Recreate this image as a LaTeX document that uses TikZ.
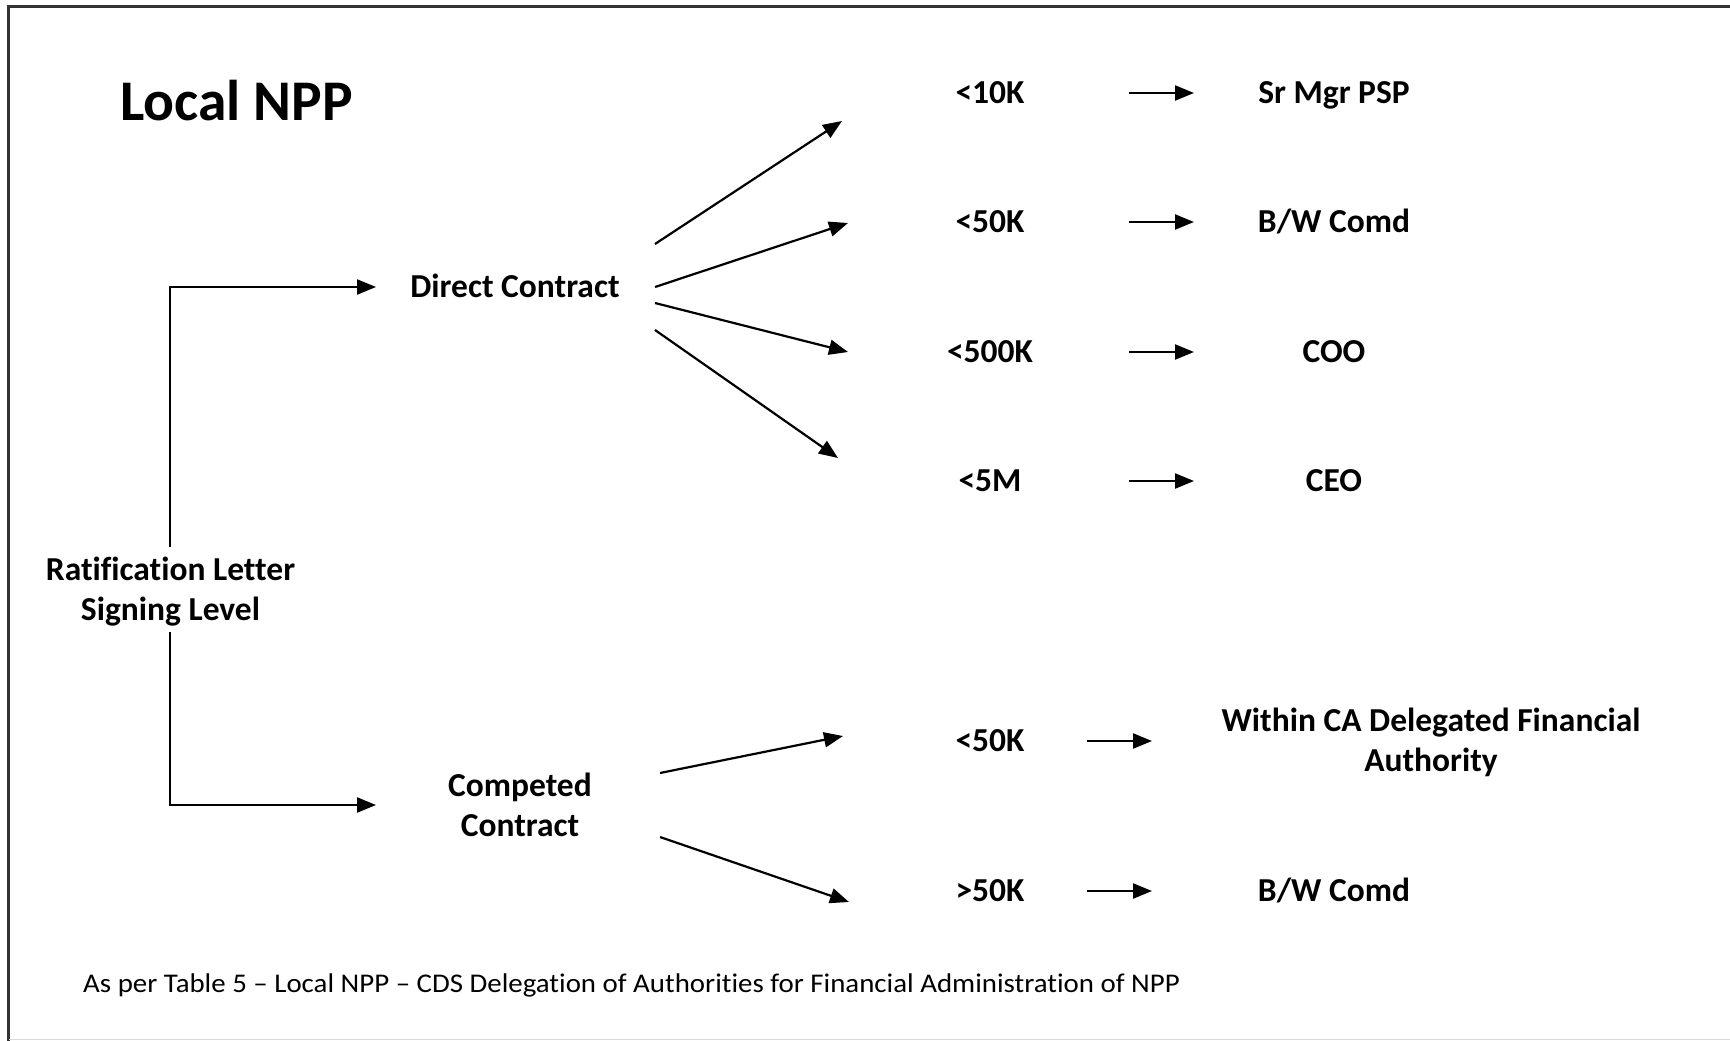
\documentclass[tikz,border=0pt]{standalone}
\usepackage{fontspec}
\setmainfont{Carlito}[Ligatures=NoCommon]
\newfontfamily\notefont{Carlito}[Ligatures=NoCommon,FakeStretch=1.07]
\usetikzlibrary{arrows.meta}
\begin{document}
\begin{tikzpicture}[x=1pt,y=-1pt,
  lbl/.style={font=\bfseries\fontsize{33.5}{39.5}\selectfont, inner sep=0pt, anchor=base, align=center},
  arr/.style={line width=2.2pt, -{Triangle[length=19pt,width=15pt]}},
  frame/.style={line width=2.5pt, draw=black!80}]
\useasboundingbox (0,0) rectangle (1730,1041);
\fill[white] (0,0) rectangle (1730,1041);
% frame
\draw[frame] (8.5,1041) -- (8.5,6.5) -- (1730,6.5);
\draw[black!15, line width=1pt] (8.5,1039.5) -- (1730,1039.5);
% title
\node[font=\bfseries\fontsize{57.5}{68}\selectfont, inner sep=0pt, anchor=base west] (title) at (120,121) {Local NPP};
% root (base anchor = last line baseline)
\node[lbl] (root) at (170.5,620) {Ratification Letter\\Signing Level};
\node[lbl] (dc) at (515,297) {Direct Contract};
\node[lbl] (cc) at (520,836) {Competed\\Contract};
% values
\node[lbl] (v1) at (990,103) {<10K};
\node[lbl] (v2) at (990,232) {<50K};
\node[lbl] (v3) at (990,362) {<500K};
\node[lbl] (v4) at (990,491) {<5M};
\node[lbl] (v5) at (990,751) {<50K};
\node[lbl] (v6) at (990,901) {>50K};
% authorities
\node[lbl] (a1) at (1334,103) {Sr Mgr PSP};
\node[lbl] (a2) at (1334,232) {B/W Comd};
\node[lbl] (a3) at (1334,362) {COO};
\node[lbl] (a4) at (1334,491) {CEO};
\node[lbl] (a5) at (1431,771) {Within CA Delegated Financial\\Authority};
\node[lbl] (a6) at (1334,901) {B/W Comd};
% footnote
\node[font=\notefont\fontsize{27}{32}\selectfont, inner sep=0pt, anchor=base west] (note) at (83,992) {As per Table 5 – Local NPP – CDS Delegation of Authorities for Financial Administration of NPP};
% coordinates
\coordinate (rtop) at (170,547);
\coordinate (rbot) at (170,632);
\coordinate (dcin) at (376,287);
\coordinate (ccin) at (376,805);
\coordinate (d1s) at (655,244); \coordinate (d1e) at (842,121);
\coordinate (d2s) at (655,287); \coordinate (d2e) at (848,223);
\coordinate (d3s) at (655,303); \coordinate (d3e) at (848,352);
\coordinate (d4s) at (655,330); \coordinate (d4e) at (838,458);
\coordinate (c1s) at (660,773); \coordinate (c1e) at (843,736);
\coordinate (c2s) at (660,837); \coordinate (c2e) at (849,902);
% bracket
\draw[arr] (rtop) |- (dcin);
\draw[arr] (rbot) |- (ccin);
% fans
\draw[arr] (d1s) -- (d1e);
\draw[arr] (d2s) -- (d2e);
\draw[arr] (d3s) -- (d3e);
\draw[arr] (d4s) -- (d4e);
\draw[arr] (c1s) -- (c1e);
\draw[arr] (c2s) -- (c2e);
% short arrows
\foreach \i/\y in {1/93,2/222,3/352,4/481}{
  \coordinate (s\i s) at (1129,\y); \coordinate (s\i e) at (1194,\y);
  \draw[arr] (s\i s) -- (s\i e);
}
\foreach \i/\y in {5/741,6/891}{
  \coordinate (s\i s) at (1087,\y); \coordinate (s\i e) at (1152,\y);
  \draw[arr] (s\i s) -- (s\i e);
}
\end{tikzpicture}
\end{document}
